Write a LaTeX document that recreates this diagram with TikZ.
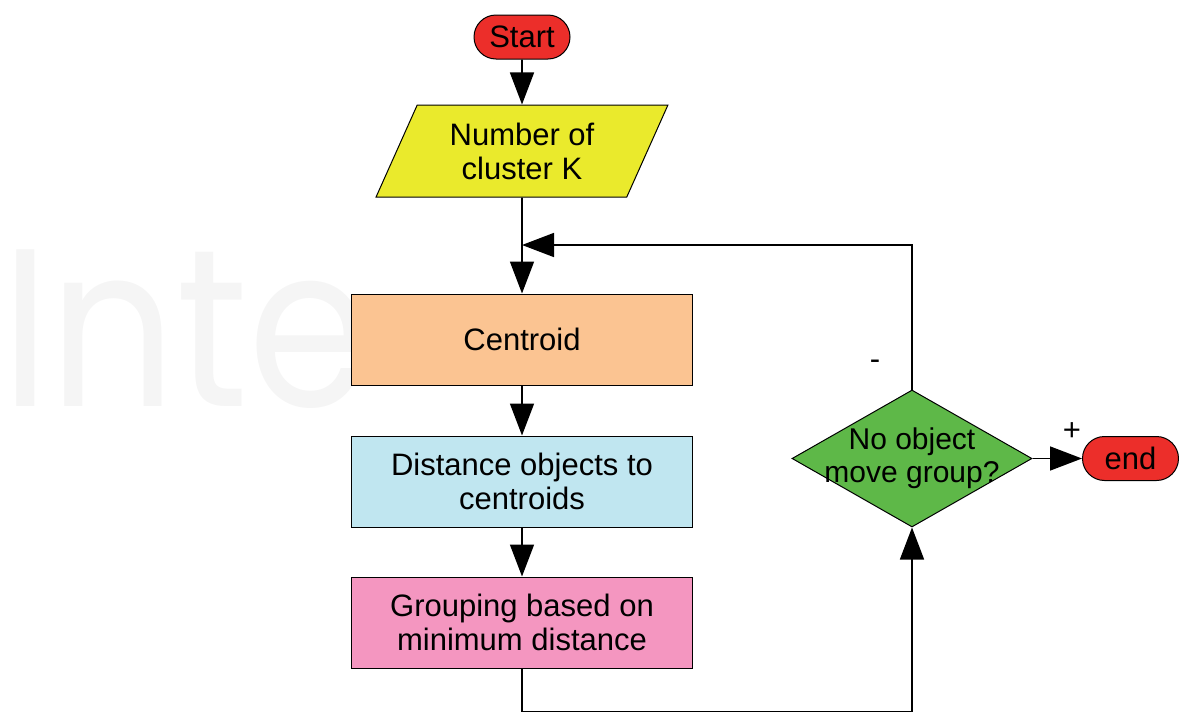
\documentclass[tikz,border=0pt]{standalone}
\usepackage{fontspec}
\setmainfont{Liberation Sans}
\newfontfamily\markfont{Poppins}
\usetikzlibrary{shapes.geometric,shapes.misc,arrows.meta}
\definecolor{startred}{RGB}{236,46,42}
\definecolor{inputyellow}{RGB}{234,234,44}
\definecolor{centroidorange}{RGB}{251,196,146}
\definecolor{distanceblue}{RGB}{192,230,240}
\definecolor{grouppink}{RGB}{244,150,192}
\definecolor{decisiongreen}{RGB}{94,184,72}
\begin{document}
\begin{tikzpicture}[x=1pt,y=-1pt,font=\fontsize{31}{34}\selectfont,
  terminal/.style={draw,line width=1pt,rounded rectangle,fill=startred,minimum width=96,minimum height=44,inner sep=0pt},
  inputbox/.style={draw,line width=1pt,trapezium,trapezium left angle=63.4,trapezium right angle=116.6,trapezium stretches=true,fill=inputyellow,minimum width=292,minimum height=92,inner sep=0pt,align=center},
  process/.style={draw,line width=1pt,rectangle,minimum width=341,minimum height=91,inner sep=0pt,align=center},
  decision/.style={draw,line width=1pt,diamond,fill=decisiongreen,minimum width=240,minimum height=137,inner sep=0pt},
  flow/.style={line width=1.6pt,-{Triangle[length=32pt,width=24pt]}}]
\useasboundingbox (0,0) rectangle (1179,715);
% watermark
\node[anchor=base west,inner sep=0pt,xscale=0.88,text=black!4,font=\markfont\fontsize{225}{225}\selectfont] (mark) at (1,406) {Inte};
% boxes
\node[terminal] (start) at (522,37) {Start};
\node[inputbox] (cluster) at (522,151) {Number of\\cluster K};
\node[process,fill=centroidorange] (centroid) at (522,339.5) {Centroid};
\node[process,fill=distanceblue] (distance) at (522,481.5) {Distance objects to\\centroids};
\node[process,fill=grouppink] (grouping) at (522,622.5) {Grouping based on\\minimum distance};
\node[decision] (check) at (912,458.5) {};
\node[align=center,font=\fontsize{30}{33}\selectfont] (checktext) at (check) {No object\\move group?};
\node[terminal] (end) at (1130.5,458.5) {end};
\node (minus) at (875,365) {-};
\node (plus) at (1072,432) {+};
% connectors
\coordinate (join) at (522,245);
\draw[flow] (start) -- (cluster);
\draw[flow] (cluster) -- (centroid);
\draw[flow] (centroid) -- (distance);
\draw[flow] (distance) -- (grouping);
\draw[flow] (grouping.south) -- ++(0,43) -| (check.south);
\draw[flow] (check.north) |- (join);
\draw[flow] (check) -- (end);
\end{tikzpicture}
\end{document}
